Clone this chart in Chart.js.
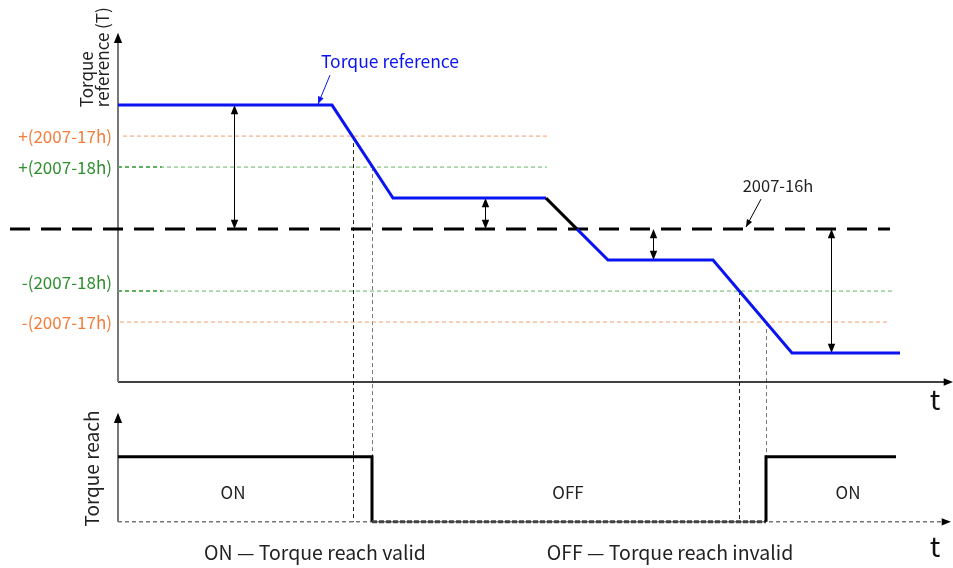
<!DOCTYPE html>
<html>
<head>
<meta charset="utf-8">
<script src="https://cdn.jsdelivr.net/npm/chart.js@4.4.1/dist/chart.umd.min.js"></script>
<style>
  html, body { margin: 0; padding: 0; background: #fff; }
  #wrap { width: 953px; height: 568px; position: relative; }
</style>
</head>
<body>
<div id="wrap"><canvas id="chart"></canvas></div>
<script>
// torque reference profile (time units, torque units)
const refTime   = [0, 21.4, 27.5, 42.8, 45.9, 49.0, 59.5, 67.4, 78.2];
const refTorque = [12, 12, 3, 3, 0, -3, -3, -12, -12];

// threshold levels
const thresholdNames  = ['+(2007-17h)', '+(2007-18h)', '-(2007-18h)', '-(2007-17h)'];
const thresholdValues = [9, 6, -6, -9];
const thresholdStart  = [0.5, 0, 0, 0.2];
const thresholdEnd    = [42.9, 42.9, 77.5, 77.2];
const thresholdColors = ['#f27d3c', '#2f8f2f', '#2f8f2f', '#f27d3c'];
const labelShift      = [0, 0, -0.8, 0];

// 2007-16h reference level
const zeroName  = '2007-16h';
const zeroLevel = 0;
const zeroStart = -10.8;
const zeroEnd   = 77.2;

// times where the reference crosses the thresholds
const crossTimes  = [23.5, 25.4, 62.1, 64.8];
const crossLevels = [9, 6, -6, -9];

// double arrows (time, from level to 0)
const gapTimes  = [11.6, 36.7, 53.5, 71.3];
const gapLevels = [12, 3, -3, -12];

// torque reach signal
const reachTime  = [0, 25.4, 25.4, 64.8, 64.8, 77.8];
const reachValue = [1, 1, 0, 0, 1, 1];
const stateText  = ['ON', 'OFF', 'ON'];
const stateTime  = [11.5, 45, 73];

const legendText = ['ON \u2014 Torque reach valid', 'OFF \u2014 Torque reach invalid'];
const legendTime = [19.7, 55.2];

const FONT = '"Noto Sans CJK SC", "Noto Sans", sans-serif';

function pts(xs, ys) { return xs.map((x, i) => ({ x: x, y: ys[i] })); }

var datasets = [];

// thresholds
thresholdValues.forEach(function (v, i) {
  datasets.push({
    data: [{ x: thresholdStart[i], y: v }, { x: thresholdEnd[i], y: v }],
    borderColor: Math.abs(v) == 9 ? '#f59c68' : '#62b862',
    borderWidth: 1,
    borderDash: [4, 3],
    yAxisID: 'y',
    order: 5
  });
});

// 2007-16h line
datasets.push({
  data: [{ x: zeroStart, y: zeroLevel }, { x: zeroEnd, y: zeroLevel }],
  borderColor: '#000',
  borderWidth: 3,
  borderDash: [20, 11],
  yAxisID: 'y',
  order: 4
});

// torque reference
datasets.push({
  data: pts(refTime, refTorque),
  borderColor: '#0a14f0',
  borderWidth: 3,
  yAxisID: 'y',
  order: 1,
  segment: {
    borderColor: ctx => ctx.p0DataIndex == 3 ? '#000' : undefined
  }
});

// torque reach
datasets.push({
  data: pts(reachTime, reachValue),
  borderColor: '#000',
  borderWidth: 3,
  yAxisID: 'y2',
  order: 1,
  segment: {
    borderDash: ctx => ctx.p0DataIndex == 2 ? [5, 2] : undefined,
    borderColor: ctx => ctx.p0DataIndex == 2 ? '#444' : undefined
  }
});

function arrowHead(ctx, x1, y1, x2, y2, size, color) {
  var a = Math.atan2(y2 - y1, x2 - x1);
  ctx.fillStyle = color;
  ctx.beginPath();
  ctx.moveTo(x2, y2);
  ctx.lineTo(x2 - size * Math.cos(a - 0.38), y2 - size * Math.sin(a - 0.38));
  ctx.lineTo(x2 - size * Math.cos(a + 0.38), y2 - size * Math.sin(a + 0.38));
  ctx.closePath();
  ctx.fill();
}

const decor = {
  id: 'decor',
  beforeDatasetsDraw(chart) {
    var ctx = chart.ctx, x = chart.scales.x, y = chart.scales.y, y2 = chart.scales.y2;
    ctx.save();
    var x0 = x.getPixelForValue(0);

    // vertical dashed lines at the threshold crossings
    ctx.lineWidth = 1;
    ctx.setLineDash([4, 3]);
    crossTimes.forEach(function (t, i) {
      ctx.strokeStyle = i % 2 == 0 ? '#222' : '#777';
      var px = Math.round(x.getPixelForValue(t)) + 0.5;
      ctx.beginPath();
      ctx.moveTo(px, y.getPixelForValue(crossLevels[i]));
      ctx.lineTo(px, y2.getPixelForValue(0));
      ctx.stroke();
    });

    // darker start of the green threshold lines
    ctx.strokeStyle = '#2e8b2e';
    ctx.lineWidth = 1.5;
    [6, -6].forEach(function (v) {
      var py = y.getPixelForValue(v);
      ctx.beginPath();
      ctx.moveTo(x0, py);
      ctx.lineTo(x.getPixelForValue(4.4), py);
      ctx.stroke();
    });

    // lower time axis (dashed)
    ctx.strokeStyle = '#777';
    ctx.lineWidth = 1.5;
    ctx.setLineDash([4, 3]);
    var by = y2.getPixelForValue(0);
    var xEnd = x.getPixelForValue(x.max) - 6;
    ctx.beginPath();
    ctx.moveTo(x0, by);
    ctx.lineTo(xEnd, by);
    ctx.stroke();
    ctx.setLineDash([]);
    arrowHead(ctx, xEnd - 10, by, xEnd + 4, by, 10, '#000');

    // upper time axis
    var ay = y.getPixelForValue(-14.8);
    ctx.strokeStyle = '#000';
    ctx.lineWidth = 1.5;
    ctx.beginPath();
    ctx.moveTo(x0, ay);
    ctx.lineTo(xEnd + 2, ay);
    ctx.stroke();
    arrowHead(ctx, xEnd - 10, ay, xEnd + 6, ay, 10, '#000');

    // vertical axes
    ctx.strokeStyle = '#777';
    ctx.lineWidth = 2;
    var topY = y.getPixelForValue(19);
    ctx.beginPath();
    ctx.moveTo(x0, ay);
    ctx.lineTo(x0, topY + 6);
    ctx.stroke();
    arrowHead(ctx, x0, topY + 10, x0, topY, 11, '#000');
    var top2 = y2.getPixelForValue(1.68);
    ctx.beginPath();
    ctx.moveTo(x0, by);
    ctx.lineTo(x0, top2 + 6);
    ctx.stroke();
    arrowHead(ctx, x0, top2 + 10, x0, top2, 11, '#000');

    // double arrows
    ctx.strokeStyle = '#000';
    ctx.lineWidth = 1;
    gapTimes.forEach(function (t, i) {
      var px = Math.round(x.getPixelForValue(t)) + 0.5;
      var pa = y.getPixelForValue(gapLevels[i]);
      var pb = y.getPixelForValue(zeroLevel);
      var d = pb > pa ? 1 : -1;
      ctx.beginPath();
      ctx.moveTo(px, pa + d * 4);
      ctx.lineTo(px, pb - d * 4);
      ctx.stroke();
      arrowHead(ctx, px, pa + d * 10, px, pa, 10, '#000');
      arrowHead(ctx, px, pb - d * 10, px, pb, 10, '#000');
    });

    // threshold labels
    ctx.font = '17px ' + FONT;
    ctx.textAlign = 'right';
    ctx.textBaseline = 'middle';
    thresholdNames.forEach(function (n, i) {
      ctx.fillStyle = thresholdColors[i];
      ctx.fillText(n, x0 - 6, y.getPixelForValue(thresholdValues[i] - labelShift[i]));
    });

    // annotations
    ctx.textAlign = 'center';
    ctx.textBaseline = 'middle';
    ctx.font = '17.5px ' + FONT;
    ctx.fillStyle = '#0a14f0';
    ctx.fillText('Torque reference', x.getPixelForValue(27.2), y.getPixelForValue(16.2));
    ctx.strokeStyle = '#0a14f0';
    ctx.lineWidth = 1;
    var lx1 = x.getPixelForValue(21.2), ly1 = y.getPixelForValue(14.9);
    var lx2 = x.getPixelForValue(20.0), ly2 = y.getPixelForValue(12.1);
    ctx.beginPath(); ctx.moveTo(lx1, ly1); ctx.lineTo(lx2, ly2); ctx.stroke();
    arrowHead(ctx, lx1, ly1, lx2, ly2, 8, '#0a14f0');

    ctx.fillStyle = '#222';
    ctx.font = '16.5px ' + FONT;
    ctx.fillText(zeroName, x.getPixelForValue(66.0), y.getPixelForValue(4.2));
    ctx.strokeStyle = '#000';
    var zx1 = x.getPixelForValue(64.3), zy1 = y.getPixelForValue(2.9);
    var zx2 = x.getPixelForValue(62.8), zy2 = y.getPixelForValue(0.2);
    ctx.beginPath(); ctx.moveTo(zx1, zy1); ctx.lineTo(zx2, zy2); ctx.stroke();
    arrowHead(ctx, zx1, zy1, zx2, zy2, 8, '#000');

    // axis titles
    ctx.fillStyle = '#222';
    ctx.font = '17px ' + FONT;
    ctx.textAlign = 'left';
    ctx.save();
    ctx.translate(x.getPixelForValue(-3.1), y.getPixelForValue(11.8));
    ctx.rotate(-Math.PI / 2);
    ctx.fillText('Torque', 0, 0);
    ctx.restore();
    ctx.save();
    ctx.translate(x.getPixelForValue(-1.5), y.getPixelForValue(11.8));
    ctx.rotate(-Math.PI / 2);
    ctx.fillText('reference (T)', 0, 0);
    ctx.restore();
    ctx.textAlign = 'center';
    ctx.save();
    ctx.font = '19px ' + FONT;
    ctx.translate(x.getPixelForValue(-2.6), y2.getPixelForValue(0.82));
    ctx.rotate(-Math.PI / 2);
    ctx.fillText('Torque reach', 0, 0);
    ctx.restore();

    // t labels
    ctx.font = '28px ' + FONT;
    ctx.fillStyle = '#111';
    ctx.fillText('t', x.getPixelForValue(81.7), y.getPixelForValue(-16.5));
    ctx.fillText('t', x.getPixelForValue(81.7), y2.getPixelForValue(-0.37));

    // state labels
    ctx.font = '17px ' + FONT;
    ctx.fillStyle = '#222';
    stateText.forEach(function (s, i) {
      ctx.fillText(s, x.getPixelForValue(stateTime[i]), y2.getPixelForValue(0.45));
    });
    ctx.font = '19.5px ' + FONT;
    legendText.forEach(function (s, i) {
      ctx.fillText(s, x.getPixelForValue(legendTime[i]), y2.getPixelForValue(-0.48));
    });
    ctx.restore();
  }
};

new Chart(document.getElementById('chart'), {
  type: 'line',
  data: { datasets: datasets },
  options: {
    responsive: true,
    maintainAspectRatio: false,
    animation: false,
    events: [],
    layout: { padding: 0 },
    elements: { point: { radius: 0 }, line: { tension: 0, borderCapStyle: 'butt' } },
    plugins: { legend: { display: false }, tooltip: { enabled: false } },
    scales: {
      x: { type: 'linear', display: false, min: -11.8, max: 83.5 },
      y: { type: 'linear', display: false, min: -32.8, max: 22.17 },
      y2: { type: 'linear', display: false, min: -0.71, max: 8.03 }
    }
  },
  plugins: [decor]
});
</script>
</body>
</html>
